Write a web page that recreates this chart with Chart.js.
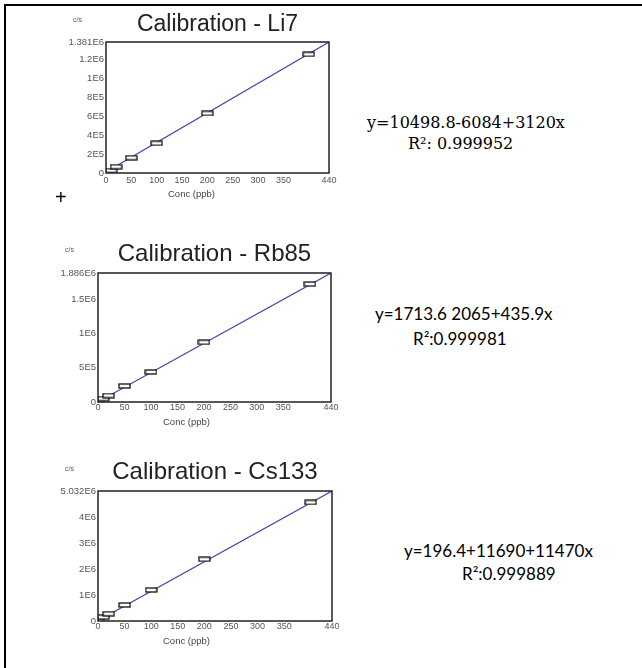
<!DOCTYPE html>
<html>
<head>
<meta charset="utf-8">
<script src="https://cdn.jsdelivr.net/npm/chart.js@4/dist/chart.umd.min.js"></script>
<style>
  html, body { margin: 0; padding: 0; background: #fff; }
  body { width: 642px; height: 668px; position: relative; overflow: hidden; }
  .frame { position: absolute; left: 4px; top: 4px; width: 800px; height: 800px;
           border-top: 2px solid #000; border-left: 2px solid #000; }
  canvas { position: absolute; left: 0; }
  .lbl { position: absolute; white-space: nowrap; line-height: 1; }
  .cs { font: 7px "Liberation Sans", Arial, sans-serif; color: #555; }
  .conc { font: 9.5px "Liberation Sans", Arial, sans-serif; color: #444; }
  .serif { font: 16px "DejaVu Serif", serif; color: #000; }
  .sans { font: 17px Lato, "Open Sans", sans-serif; color: #000; }
</style>
</head>
<body>
<div class="frame"></div>

<canvas id="li7" width="340" height="205" style="top:0px"></canvas>
<canvas id="rb85" width="340" height="203" style="top:231px"></canvas>
<canvas id="cs133" width="340" height="204" style="top:449px"></canvas>

<div class="lbl cs" style="left:73px; top:16px">c/s</div>
<div class="lbl cs" style="left:65px; top:246px">c/s</div>
<div class="lbl cs" style="left:65px; top:465px">c/s</div>

<div class="lbl conc" style="left:168px; top:188px">Conc (ppb)</div>
<div class="lbl conc" style="left:163px; top:416px">Conc (ppb)</div>
<div class="lbl conc" style="left:163px; top:635px">Conc (ppb)</div>

<div class="lbl" style="left:55px; top:186px; font:20px 'Liberation Sans', Arial, sans-serif">+</div>

<div class="lbl serif" style="left:367px; top:113px">y=10498.8-6084+3120x</div>
<div class="lbl serif" style="left:408px; top:134px">R²: 0.999952</div>

<div class="lbl sans" style="left:375px; top:303px">y=1713.6 2065+435.9x</div>
<div class="lbl sans" style="left:413px; top:328px">R²:0.999981</div>

<div class="lbl sans" style="left:404px; top:540px">y=196.4+11690+11470x</div>
<div class="lbl sans" style="left:462px; top:563px">R²:0.999889</div>

<script>
// standard concentrations (ppb) and measured counts per second
const stdConc = [0, 10, 20, 50, 100, 200, 400];
const li7Counts = [8000, 26000, 66000, 161000, 313000, 629000, 1251000];
const rb85Counts = [10000, 50000, 95000, 234000, 439000, 873000, 1725000];
const cs133Counts = [15000, 150000, 280000, 620000, 1200000, 2390000, 4590000];

// calibration lines, from 0 to 440 ppb
const fitConc = [0, 440];
const li7Fit = [10499, 1381000];
const rb85Fit = [2065, 1886000];
const cs133Fit = [11690, 5032000];

// axis ticks
const xTicks = [0, 50, 100, 150, 200, 250, 300, 350, 440];
const li7YTicks = [0, 200000, 400000, 600000, 800000, 1000000, 1200000, 1381000];
const li7YLabels = ['0', '2E5', '4E5', '6E5', '8E5', '1E6', '1.2E6', '1.381E6'];
const rb85YTicks = [0, 500000, 1000000, 1500000, 1886000];
const rb85YLabels = ['0', '5E5', '1E6', '1.5E6', '1.886E6'];
const cs133YTicks = [0, 1000000, 2000000, 3000000, 4000000, 5032000];
const cs133YLabels = ['0', '1E6', '2E6', '3E6', '4E6', '5.032E6'];

Chart.defaults.font.family = '"Liberation Sans", Arial, sans-serif';
Chart.defaults.color = '#444';

// small open box used as marker
const marker = document.createElement('canvas');
marker.width = 13;
marker.height = 6;
const mctx = marker.getContext('2d');
mctx.fillStyle = '#fff';
mctx.fillRect(1, 1, 11, 4);
mctx.strokeStyle = '#111';
mctx.lineWidth = 1.3;
mctx.strokeRect(1, 1, 11, 4);

const frameBox = {
  id: 'frameBox',
  afterDraw(chart) {
    const a = chart.chartArea;
    const ctx = chart.ctx;
    ctx.save();
    ctx.strokeStyle = '#222';
    ctx.lineWidth = 1.5;
    ctx.strokeRect(a.left, a.top, a.right - a.left, a.bottom - a.top);
    ctx.restore();
  }
};

function toPoints(xs, ys) {
  return xs.map((x, i) => ({ x: x, y: ys[i] }));
}

function makeChart(id, title, counts, fit, yTicks, yLabels, cfg) {
  new Chart(document.getElementById(id), {
    type: 'scatter',
    data: {
      datasets: [{
        data: toPoints(stdConc, counts),
        pointStyle: marker,
        pointRadius: 6,
        showLine: false
      }, {
        data: toPoints(fitConc, fit),
        showLine: true,
        borderColor: '#4848a8',
        borderWidth: 1.2,
        pointRadius: 0
      }]
    },
    options: {
      responsive: false,
      animation: false,
      devicePixelRatio: 1,
      layout: { padding: { left: 0, right: cfg.padRight, top: cfg.padTop, bottom: 0 } },
      plugins: {
        legend: { display: false },
        tooltip: { enabled: false },
        title: {
          display: true,
          text: title,
          fullSize: false,
          color: '#222',
          font: { size: cfg.titleSize, weight: 'normal' },
          padding: { top: 0, bottom: cfg.titleGap }
        }
      },
      scales: {
        x: {
          type: 'linear',
          min: 0,
          max: 440,
          grid: { display: false, drawTicks: false, tickLength: 0 },
          border: { display: false },
          afterBuildTicks: axis => { axis.ticks = xTicks.map(v => ({ value: v })); },
          afterFit: axis => { axis.height = cfg.xHeight; },
          ticks: { autoSkip: false, maxRotation: 0, padding: cfg.xPad, font: { size: 9 }, color: '#555' }
        },
        y: {
          min: 0,
          max: yTicks[yTicks.length - 1],
          grid: { display: false, drawTicks: false, tickLength: 0 },
          border: { display: false },
          afterBuildTicks: axis => { axis.ticks = yTicks.map(v => ({ value: v })); },
          afterFit: axis => { axis.width = cfg.yWidth; },
          ticks: {
            autoSkip: false,
            padding: 2,
            font: { size: 9.5 },
            color: '#555',
            callback: (v, i) => yLabels[i]
          }
        }
      }
    },
    plugins: [frameBox]
  });
}

makeChart('li7', 'Calibration - Li7', li7Counts, li7Fit, li7YTicks, li7YLabels,
  { padRight: 11, padTop: 11, titleSize: 23, titleGap: 3.4, xHeight: 32, yWidth: 106, xPad: 2 });
makeChart('rb85', 'Calibration - Rb85', rb85Counts, rb85Fit, rb85YTicks, rb85YLabels,
  { padRight: 9, padTop: 9.2, titleSize: 24, titleGap: 4, xHeight: 32, yWidth: 98, xPad: 0 });
makeChart('cs133', 'Calibration - Cs133', cs133Counts, cs133Fit, cs133YTicks, cs133YLabels,
  { padRight: 8, padTop: 9.2, titleSize: 24, titleGap: 4, xHeight: 32, yWidth: 98, xPad: 0 });
</script>
</body>
</html>
